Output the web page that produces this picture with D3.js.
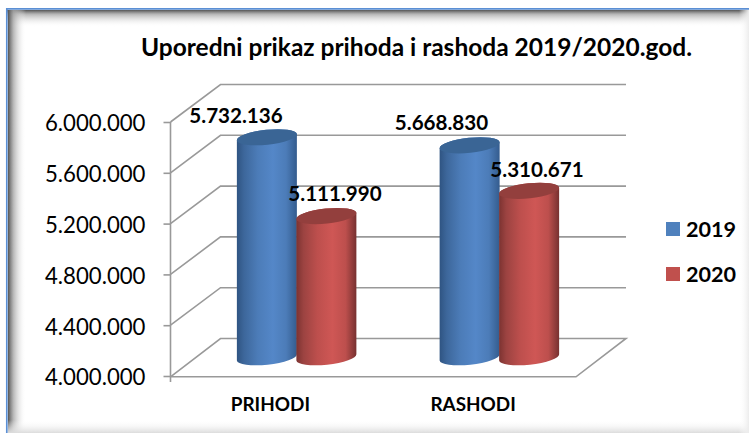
<!DOCTYPE html>
<html><head><meta charset="utf-8">
<script src="https://d3js.org/d3.v7.min.js"></script>
<style>html,body{margin:0;padding:0;background:#fff}svg{display:block}text{font-family:Lato,"Open Sans",sans-serif;fill:#000}</style>
</head><body><svg id="c" width="749" height="433"></svg>
<script>
const categories = ["PRIHODI","RASHODI"];
const seriesNames = ["2019","2020"];
const values2019 = [5732136,5668830];
const values2020 = [5111990,5310671];
const tickValues = [4000000,4400000,4800000,5200000,5600000,6000000];
const titleText = "Uporedni prikaz prihoda i rashoda 2019/2020.god.";

const svg = d3.select("#c");
const defs = svg.append("defs");
const fmt = v => d3.format(",")(v).replace(/,/g,".");

function lin(id,x1,y1,x2,y2,stops){
  const g=defs.append("linearGradient").attr("id",id).attr("x1",x1).attr("y1",y1).attr("x2",x2).attr("y2",y2);
  stops.forEach(s=>g.append("stop").attr("offset",s[0]).attr("stop-color",s[1]).attr("stop-opacity",s[2]===undefined?1:s[2]));
}
lin("body2019",0,0,1,0,[[0,"#2f5482"],[.12,"#3d679b"],[.35,"#4c7cb8"],[.6,"#5487c8"],[.82,"#4c7cb8"],[1,"#345c8e"]]);
lin("body2020",0,0,1,0,[[0,"#7c3331"],[.12,"#9c4341"],[.35,"#bd4f4d"],[.6,"#cf5755"],[.82,"#bd4f4d"],[1,"#773130"]]);
lin("shT",0,0,0,1,[[0,"#555",1],[.25,"#a5a5a5",.8],[1,"#fff",0]]);
lin("shL",0,0,1,0,[[0,"#555",1],[.3,"#a5a5a5",.8],[1,"#fff",0]]);
lin("shB",0,1,0,0,[[0,"#dcdcdc",1],[1,"#fff",0]]);
lin("shR",1,0,0,0,[[0,"#ececec",1],[1,"#fff",0]]);

// frame
svg.append("rect").attr("x",6).attr("y",8).attr("width",743).attr("height",425).attr("fill","#fff");
svg.append("rect").attr("x",7).attr("y",10).attr("width",742).attr("height",17).attr("fill","url(#shT)");
svg.append("rect").attr("x",8).attr("y",10).attr("width",18).attr("height",423).attr("fill","url(#shL)");
svg.append("rect").attr("x",8).attr("y",420).attr("width",741).attr("height",13).attr("fill","url(#shB)");
svg.append("rect").attr("x",739).attr("y",10).attr("width",10).attr("height",423).attr("fill","url(#shR)");
svg.append("path").attr("d",d3.line()([[6.8,433],[6.8,8.8],[749,8.8]])).attr("fill","none").attr("stroke","#5b8fd4").attr("stroke-width",1.7);

// title
svg.append("text").attr("x",416.5).attr("y",56).attr("text-anchor","middle").attr("font-size",24.5).attr("font-weight",700).text(titleText);

// scales
const y = d3.scaleLinear().domain([4000000,6000000]).range([376,122]);
const x = d3.scaleBand().domain(categories).range([170.5,576]);
const depthX = 50, depthY = -37.5;

// walls / gridlines
const wall = svg.append("g").attr("fill","none").attr("stroke","#999").attr("stroke-width",1.6);
tickValues.forEach(t=>{
  if(t===4000000) return;
  wall.append("path").attr("d",d3.line()([[x.range()[0],y(t)],[x.range()[0]+depthX,y(t)+depthY],[x.range()[1]+depthX,y(t)+depthY]]));
});
const y0=y(4000000);
wall.append("path").attr("d",d3.line()([[x.range()[0],y0+.8],[x.range()[1],y0+.8],[x.range()[1]+depthX,y0+depthY],[x.range()[0]+depthX,y0+depthY],[x.range()[0],y0+.8]]));
wall.append("path").attr("d",d3.line()([[x.range()[0],y(6000000)],[x.range()[0],y0+6]]));

// axis
const axis = d3.axisLeft(y).tickValues(tickValues).tickFormat(fmt).tickSize(7).tickPadding(18);
const ga = svg.append("g").attr("transform",`translate(${x.range()[0]},0)`).call(axis);
ga.select(".domain").remove();
ga.selectAll("line").attr("stroke","#999").attr("stroke-width",1.6);
ga.selectAll("text").attr("font-size",22.2).attr("dy","0.4em").attr("fill","#000");

// category labels
const xAxis = d3.axisBottom(x).tickSize(0).tickPadding(0);
const gx = svg.append("g").attr("transform",`translate(-1.5,411)`).call(xAxis);
gx.select(".domain").remove();
gx.selectAll("text").attr("font-size",18.9).attr("font-weight",700).attr("dy",0).attr("fill","#000");

// cylinders
const cw = 60, ry = 7.5, rot = -6;
const series = [
 {name:seriesNames[0],vals:values2019,offset:-cw/2,body:"url(#body2019)",top:"#3a6595"},
 {name:seriesNames[1],vals:values2020,offset:cw/2-.5,body:"url(#body2020)",top:"#933f3d"}
];
const rad = rot*Math.PI/180;
const rx = cw/2/Math.cos(rad);
const sy = -Math.sin(rad)*rx;
const bars = svg.append("g");
series.forEach(s=>{
  categories.forEach((c,i)=>{
    const cx = x(c)+x.bandwidth()/2+depthX/2+s.offset;
    const yt = y(s.vals[i])+depthY/2, yb = y0+depthY/2;
    const lx=cx-cw/2, rxp=cx+cw/2;
    const arc=`A${rx},${ry} ${rot} 0 0`;
    bars.append("path").attr("fill",s.body)
      .attr("d",`M${lx},${yt+sy}L${lx},${yb+sy}${arc} ${rxp},${yb-sy}L${rxp},${yt-sy}${arc} ${lx},${yt+sy}Z`);
    bars.append("ellipse").attr("cx",cx).attr("cy",yt).attr("rx",rx).attr("ry",ry)
      .attr("transform",`rotate(${rot} ${cx} ${yt})`).attr("fill",s.top);
  });
});

// data labels
const labelPos = [[[236,116],[441.5,122.5]],[[335,193.5],[537,170]]];
const labels = svg.append("g");
[values2019,values2020].forEach((vals,si)=>vals.forEach((v,ci)=>{
  labels.append("text").attr("x",labelPos[si][ci][0]).attr("y",labelPos[si][ci][1]+7)
    .attr("text-anchor","middle").attr("font-size",20.6).attr("font-weight",700).text(fmt(v));
}));

// legend
const legend = svg.append("g");
const colors=["#4f81bd","#c0504d"];
seriesNames.forEach((n,i)=>{
  const g=legend.append("g").attr("transform",`translate(666,${222+i*45})`);
  g.append("rect").attr("width",14).attr("height",14).attr("fill",colors[i]);
  g.append("text").attr("x",20).attr("y",15).attr("font-size",21.6).attr("font-weight",700).text(n);
});
</script></body></html>
